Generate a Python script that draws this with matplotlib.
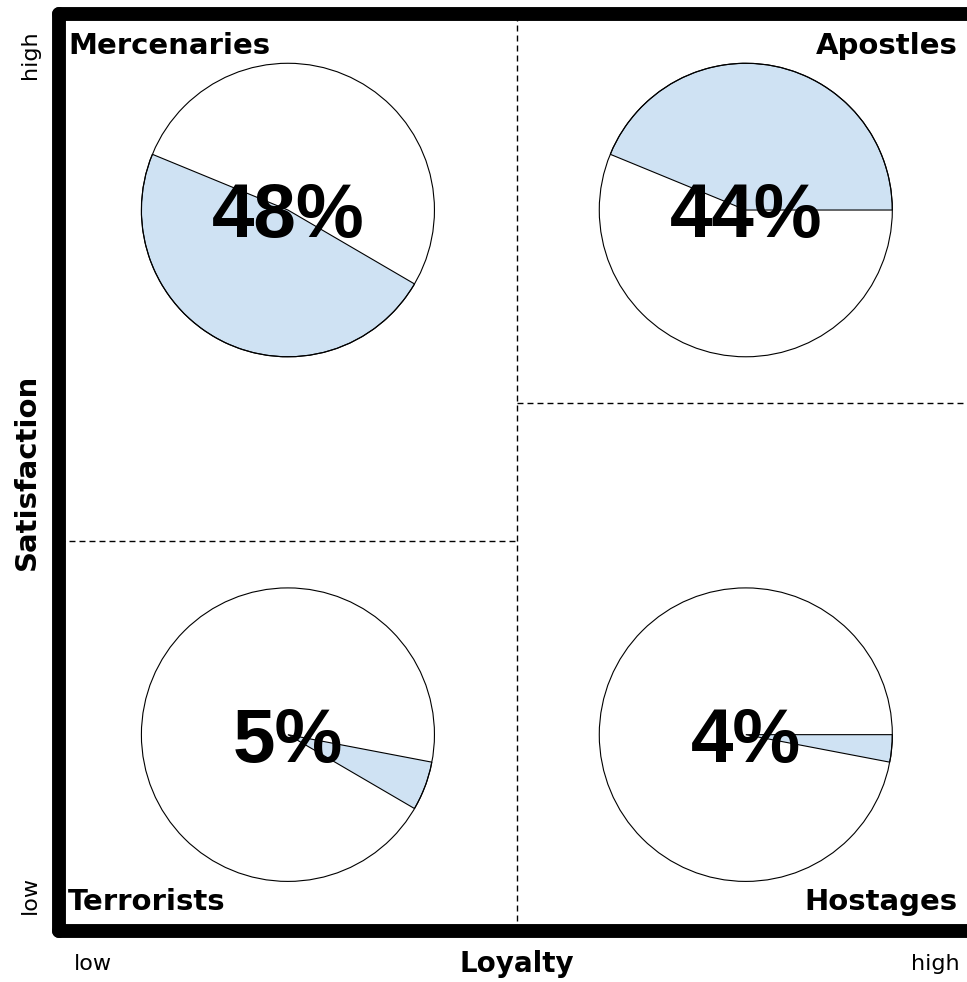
import matplotlib
matplotlib.use("Agg")
import matplotlib.pyplot as plt

# shares, labels as printed on the chart
segments = ["Apostles", "Mercenaries", "Terrorists", "Hostages"]
shares = [43.8, 47.8, 5.4, 3.0]
pct_labels = ["44%", "48%", "5%", "4%"]
# quadrant centre of each pie (x, y) in axes units
pie_pos = [(0.75, 0.786), (0.25, 0.786), (0.25, 0.214), (0.75, 0.214)]

blue = "#cfe2f3"

fig = plt.figure(figsize=(9.67, 9.82), dpi=100)
ax = fig.add_axes([0.061, 0.052, 0.947, 0.934])

for i, seg in enumerate(segments):
    cols = ["white"] * len(shares)
    cols[i] = blue
    wedges, _ = ax.pie(shares, colors=cols, startangle=0, counterclock=True,
                       center=pie_pos[i], radius=0.16, frame=True,
                       wedgeprops=dict(linewidth=0))
    wedges[i].set_edgecolor("black")
    wedges[i].set_linewidth(0.8)
    wedges[i].set_zorder(3)
    ring = plt.Circle(pie_pos[i], 0.16, fill=False, ec="black", lw=0.8, zorder=4)
    ax.add_patch(ring)
    ax.annotate(pct_labels[i], pie_pos[i], xytext=(0, -27), textcoords="offset pixels",
                ha="center", va="baseline", fontsize=55, fontweight="bold",
                family="Liberation Sans", zorder=5)

ax.set_xlim(0, 1)
ax.set_ylim(0, 1)
ax.set_aspect("auto")
ax.set_xticks([])
ax.set_yticks([])

for side in ["left", "right", "top", "bottom"]:
    ax.spines[side].set_linewidth(10)
    ax.spines[side].set_capstyle("round")
    ax.spines[side].set_visible(True)

dash = dict(color="black", lw=1, dashes=(4.3, 2.9), zorder=2)
ax.plot([0.5, 0.5], [0, 1], **dash)
ax.plot([0, 0.5], [0.425, 0.425], **dash)
ax.plot([0.5, 1], [0.576, 0.576], **dash)

lab = dict(fontsize=21, fontweight="bold", transform=ax.transAxes, va="baseline")
ax.text(0.0098, 0.956, "Mercenaries", ha="left", **lab)
ax.text(0.981, 0.956, "Apostles", ha="right", **lab)
ax.text(0.0098, 0.0229, "Terrorists", ha="left", **lab)
ax.text(0.981, 0.0229, "Hostages", ha="right", **lab)

ax.set_xlabel("Loyalty", fontsize=20, fontweight="bold", labelpad=14)
ax.set_ylabel("Satisfaction", fontsize=21, fontweight="bold", labelpad=13)

fig.text(74 / 967, 1 - 970 / 982, "low", fontsize=16, ha="left", va="baseline")
fig.text(960 / 967, 1 - 970 / 982, "high", fontsize=16, ha="right", va="baseline")
fig.text(40 / 967, 1 - 895 / 982, "low", fontsize=16, rotation=90, ha="right", va="center")
fig.text(40 / 967, 1 - 55 / 982, "high", fontsize=16, rotation=90, ha="right", va="center")

fig.savefig("out.png", dpi=100)
